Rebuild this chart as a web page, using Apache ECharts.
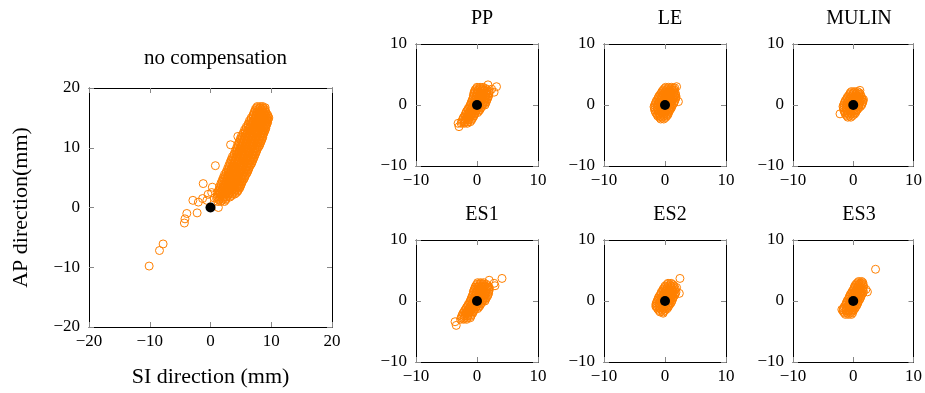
<!DOCTYPE html>
<html>
<head>
<meta charset="utf-8">
<script src="https://cdn.jsdelivr.net/npm/echarts@6/dist/echarts.min.js"></script>
<style>
  html, body { margin: 0; padding: 0; background: #fff; }
  #chart { width: 925px; height: 393px; }
</style>
</head>
<body>
<div id="chart"></div>
<script>
// dense cores are typed row by row: [y, [x values]]
const noCompRows = [
  [1.0, [1.2, 1.7, 2.3]],
  [1.25, [1.4, 2.0, 2.5]],
  [1.5, [1.0, 1.5, 2.0, 2.6]],
  [1.75, [1.1, 1.6, 2.1, 2.6, 3.2]],
  [2.0, [1.2, 1.8, 2.3, 2.9, 3.5]],
  [2.25, [1.3, 1.9, 2.4, 3.0, 3.6, 4.0]],
  [2.5, [1.1, 1.6, 2.1, 2.7, 3.2, 3.8, 4.3]],
  [2.75, [1.3, 1.8, 2.4, 2.9, 3.5, 4.0, 4.5]],
  [3.0, [1.4, 1.9, 2.5, 3.0, 3.6, 4.1, 4.6]],
  [3.25, [1.6, 2.2, 2.7, 3.3, 3.9, 4.4, 4.8]],
  [3.5, [1.5, 2.1, 2.7, 3.2, 3.8, 4.4, 4.9]],
  [3.75, [1.8, 2.4, 3.0, 3.5, 4.1, 4.7, 5.0]],
  [4.0, [1.7, 2.3, 2.8, 3.4, 4.0, 4.5, 5.1]],
  [4.25, [2.0, 2.6, 3.1, 3.7, 4.3, 4.8, 5.2]],
  [4.5, [1.9, 2.5, 3.0, 3.6, 4.2, 4.8, 5.3]],
  [4.75, [2.2, 2.8, 3.3, 3.9, 4.5, 5.1, 5.5]],
  [5.0, [2.1, 2.7, 3.3, 3.8, 4.4, 5.0, 5.6]],
  [5.25, [2.4, 3.0, 3.6, 4.1, 4.7, 5.3, 5.7]],
  [5.5, [2.3, 2.9, 3.5, 4.1, 4.6, 5.2, 5.8]],
  [5.75, [2.6, 3.2, 3.8, 4.4, 4.9, 5.5, 6.0]],
  [6.0, [2.6, 3.1, 3.7, 4.3, 4.9, 5.4, 6.1]],
  [6.25, [2.9, 3.4, 4.0, 4.6, 5.2, 5.8, 6.2]],
  [6.5, [2.8, 3.4, 3.9, 4.5, 5.1, 5.7, 6.3]],
  [6.75, [3.1, 3.7, 4.2, 4.8, 5.4, 6.0, 6.4]],
  [7.0, [3.0, 3.6, 4.1, 4.7, 5.3, 5.9, 6.5]],
  [7.25, [3.3, 3.9, 4.4, 5.0, 5.6, 6.2, 6.7]],
  [7.5, [3.2, 3.8, 4.4, 5.0, 5.5, 6.1, 6.8]],
  [7.75, [3.5, 4.1, 4.7, 5.3, 5.9, 6.5, 6.9]],
  [8.0, [3.4, 4.0, 4.6, 5.2, 5.8, 6.4, 7.0]],
  [8.25, [3.7, 4.3, 4.9, 5.5, 6.1, 6.7, 7.1]],
  [8.5, [3.6, 4.2, 4.8, 5.4, 6.0, 6.6, 7.2]],
  [8.75, [3.9, 4.5, 5.1, 5.7, 6.3, 6.9, 7.3]],
  [9.0, [3.9, 4.4, 5.0, 5.6, 6.2, 6.8, 7.4]],
  [9.25, [4.2, 4.7, 5.3, 5.9, 6.5, 7.1, 7.5]],
  [9.5, [4.1, 4.7, 5.2, 5.8, 6.4, 7.0, 7.6]],
  [9.75, [4.4, 5.0, 5.5, 6.1, 6.7, 7.3, 7.7]],
  [10.0, [4.3, 4.9, 5.5, 6.1, 6.7, 7.3, 7.8]],
  [10.25, [4.6, 5.2, 5.8, 6.4, 7.0, 7.6, 8.0]],
  [10.5, [4.5, 5.1, 5.7, 6.3, 6.9, 7.5, 8.1]],
  [10.75, [4.8, 5.4, 6.0, 6.6, 7.2, 7.8, 8.2]],
  [11.0, [4.7, 5.3, 5.9, 6.5, 7.1, 7.7, 8.3]],
  [11.25, [5.0, 5.6, 6.2, 6.8, 7.4, 8.0, 8.4]],
  [11.5, [4.9, 5.5, 6.1, 6.7, 7.3, 7.9, 8.5]],
  [11.75, [5.2, 5.8, 6.4, 7.0, 7.6, 8.2, 8.6]],
  [12.0, [5.1, 5.7, 6.3, 6.9, 7.5, 8.1, 8.6]],
  [12.25, [5.4, 6.0, 6.6, 7.2, 7.8, 8.4, 8.7]],
  [12.5, [5.4, 6.0, 6.5, 7.1, 7.7, 8.3, 8.8]],
  [12.75, [5.7, 6.3, 6.8, 7.4, 8.0, 8.6, 8.9]],
  [13.0, [5.6, 6.2, 6.8, 7.4, 8.0, 8.5, 9.0]],
  [13.25, [5.9, 6.5, 7.1, 7.7, 8.3, 8.8, 9.1]],
  [13.5, [5.9, 6.5, 7.1, 7.6, 8.2, 8.7, 9.1]],
  [13.75, [6.2, 6.8, 7.4, 7.9, 8.5, 9.0, 9.2]],
  [14.0, [6.2, 6.7, 7.3, 7.9, 8.4, 8.9, 9.3]],
  [14.25, [6.5, 7.0, 7.6, 8.2, 8.7, 9.1, 9.4]],
  [14.5, [6.4, 7.0, 7.6, 8.1, 8.6, 9.1, 9.4]],
  [14.75, [6.7, 7.3, 7.9, 8.4, 8.9, 9.3, 9.5]],
  [15.0, [6.7, 7.3, 7.8, 8.3, 8.8, 9.3, 9.6]],
  [15.25, [7.0, 7.5, 8.1, 8.6, 9.1, 9.5]],
  [15.5, [7.0, 7.5, 8.0, 8.5, 9.0, 9.4]],
  [15.75, [7.2, 7.8, 8.3, 8.8, 9.2]],
  [16.0, [7.2, 7.7, 8.2, 8.7, 9.1]],
  [16.25, [7.4, 8.0, 8.5, 9.0]],
  [16.5, [7.4, 7.9, 8.4, 8.9]],
  [16.7, [7.6, 8.1, 8.6, 9.0]],
  [16.9, [7.7, 8.2, 8.6]],
]
const noCompOutliers = [
  [-10.1, -9.8], [-8.4, -7.2], [-7.8, -6.1], [-4.3, -2.6], [-4.2, -1.9], [-3.9, -1.0],
  [-2.9, 1.2], [-2.2, -0.9], [-2.0, 0.9], [-1.3, 1.5], [-1.2, 4.0], [-0.6, 1.2],
  [-0.4, 2.2], [0.2, 2.5], [0.3, 3.4], [0.6, 1.6], [1.3, 0.0], [0.8, 7.0],
  [3.3, 10.5], [4.5, 11.9], [7.0, 8.8],
]

const ppRows = [
  [-3.0, [-2.6, -2.1, -1.6]],
  [-2.75, [-2.5, -2.0, -1.5, -1.1]],
  [-2.5, [-2.4, -1.9, -1.4, -0.9]],
  [-2.25, [-2.3, -1.8, -1.3, -0.8]],
  [-2.0, [-2.2, -1.7, -1.2, -0.6]],
  [-1.75, [-2.0, -1.5, -1.0, -0.5]],
  [-1.5, [-1.9, -1.4, -0.9, -0.4]],
  [-1.25, [-1.8, -1.3, -0.8, -0.3, 0.1]],
  [-1.0, [-1.7, -1.2, -0.7, -0.2, 0.3]],
  [-0.75, [-1.5, -1.0, -0.5, 0.0, 0.5]],
  [-0.5, [-1.4, -0.9, -0.4, 0.1, 0.6]],
  [-0.25, [-1.2, -0.7, -0.2, 0.3, 0.8]],
  [0.0, [-1.1, -0.6, -0.1, 0.4, 0.9, 1.3]],
  [0.25, [-1.0, -0.5, 0.0, 0.5, 1.0, 1.4]],
  [0.5, [-0.9, -0.4, 0.1, 0.6, 1.1, 1.5]],
  [0.75, [-0.8, -0.3, 0.2, 0.7, 1.2, 1.6]],
  [1.0, [-0.7, -0.2, 0.3, 0.8, 1.3, 1.7]],
  [1.25, [-0.6, -0.1, 0.4, 0.9, 1.4, 1.8]],
  [1.5, [-0.6, -0.1, 0.4, 0.9, 1.4, 1.9]],
  [1.75, [-0.5, 0.0, 0.5, 1.0, 1.5, 1.9]],
  [2.0, [-0.5, 0.0, 0.5, 1.0, 1.5, 2.0]],
  [2.25, [-0.4, 0.1, 0.6, 1.1, 1.6, 2.0]],
  [2.5, [-0.3, 0.2, 0.7, 1.2, 1.7]],
  [2.7, [-0.1, 0.4, 0.9, 1.4]],
  [2.9, [0.0, 0.5, 1.0]],
]
const ppOutliers = [[-3.1, -3.0], [-2.95, -3.55], [1.8, 3.3], [3.2, 3.0], [2.8, 2.1], [2.4, 2.6]]

const leRows = [
  [-2.3, [-0.7, -0.2]],
  [-2.05, [-0.9, -0.4, 0.1]],
  [-1.8, [-1.2, -0.7, -0.2, 0.3]],
  [-1.55, [-1.3, -0.8, -0.3, 0.2, 0.5]],
  [-1.3, [-1.5, -1.0, -0.5, 0.0, 0.5]],
  [-1.05, [-1.6, -1.1, -0.6, -0.1, 0.4, 0.7]],
  [-0.8, [-1.7, -1.2, -0.7, -0.2, 0.3, 0.8]],
  [-0.55, [-1.7, -1.2, -0.7, -0.2, 0.3, 0.8, 1.0]],
  [-0.3, [-1.8, -1.3, -0.8, -0.3, 0.2, 0.7, 1.1]],
  [-0.05, [-1.7, -1.2, -0.7, -0.2, 0.3, 0.8, 1.2]],
  [0.2, [-1.6, -1.1, -0.6, -0.1, 0.4, 0.9, 1.4]],
  [0.45, [-1.5, -1.0, -0.5, 0.0, 0.5, 1.0, 1.5]],
  [0.7, [-1.4, -0.9, -0.4, 0.1, 0.6, 1.1, 1.6]],
  [0.95, [-1.2, -0.7, -0.2, 0.3, 0.8, 1.3, 1.7]],
  [1.2, [-1.1, -0.6, -0.1, 0.4, 0.9, 1.4, 1.8]],
  [1.45, [-1.0, -0.5, 0.0, 0.5, 1.0, 1.5, 1.8]],
  [1.7, [-0.8, -0.3, 0.2, 0.7, 1.2, 1.7]],
  [1.95, [-0.6, -0.1, 0.4, 0.9, 1.4, 1.7]],
  [2.2, [-0.5, 0.0, 0.5, 1.0, 1.5]],
  [2.45, [-0.3, 0.2, 0.7, 1.2, 1.5]],
  [2.7, [-0.1, 0.4, 0.9, 1.4]],
  [2.9, [0.1, 0.6, 1.1]],
]
const leOutliers = [[1.9, 3.0], [2.2, 0.55], [-0.8, -1.9], [1.6, 2.8]]

const mulinRows = [
  [-2.0, [-0.9, -0.4]],
  [-1.75, [-1.1, -0.6, -0.1]],
  [-1.5, [-1.3, -0.8, -0.3, 0.2]],
  [-1.25, [-1.4, -0.9, -0.4, 0.1, 0.4]],
  [-1.0, [-1.5, -1.0, -0.5, 0.0, 0.5]],
  [-0.75, [-1.6, -1.1, -0.6, -0.1, 0.4, 0.7]],
  [-0.5, [-1.6, -1.1, -0.6, -0.1, 0.4, 0.9]],
  [-0.25, [-1.7, -1.2, -0.7, -0.2, 0.3, 0.8, 1.2]],
  [0.0, [-1.6, -1.1, -0.6, -0.1, 0.4, 0.9, 1.4]],
  [0.25, [-1.5, -1.0, -0.5, 0.0, 0.5, 1.0, 1.5]],
  [0.5, [-1.4, -0.9, -0.4, 0.1, 0.6, 1.1, 1.6]],
  [0.75, [-1.3, -0.8, -0.3, 0.2, 0.7, 1.2, 1.6]],
  [1.0, [-1.1, -0.6, -0.1, 0.4, 0.9, 1.4]],
  [1.25, [-1.0, -0.5, 0.0, 0.5, 1.0, 1.4]],
  [1.5, [-0.8, -0.3, 0.2, 0.7, 1.2]],
  [1.75, [-0.6, -0.1, 0.4, 0.9, 1.2]],
  [2.0, [-0.5, 0.0, 0.5, 1.0]],
  [2.2, [-0.3, 0.2, 0.7]],
]
const mulinOutliers = [[-2.2, -1.45], [1.1, 2.4], [1.7, 0.9]]

const es1Rows = [
  [-3.0, [-2.7, -2.2, -1.7]],
  [-2.75, [-2.6, -2.1, -1.6, -1.1]],
  [-2.5, [-2.5, -2.0, -1.5, -1.0]],
  [-2.25, [-2.4, -1.9, -1.4, -0.9]],
  [-2.0, [-2.3, -1.8, -1.3, -0.7]],
  [-1.75, [-2.1, -1.6, -1.1, -0.6]],
  [-1.5, [-2.0, -1.5, -1.0, -0.5]],
  [-1.25, [-1.8, -1.3, -0.8, -0.3, 0.1]],
  [-1.0, [-1.7, -1.2, -0.7, -0.2, 0.3]],
  [-0.75, [-1.5, -1.0, -0.5, 0.0, 0.5]],
  [-0.5, [-1.4, -0.9, -0.4, 0.1, 0.6]],
  [-0.25, [-1.2, -0.7, -0.2, 0.3, 0.8]],
  [0.0, [-1.1, -0.6, -0.1, 0.4, 0.9, 1.3]],
  [0.25, [-1.0, -0.5, 0.0, 0.5, 1.0, 1.4]],
  [0.5, [-0.9, -0.4, 0.1, 0.6, 1.1, 1.5]],
  [0.75, [-0.8, -0.3, 0.2, 0.7, 1.2, 1.7]],
  [1.0, [-0.7, -0.2, 0.3, 0.8, 1.3, 1.8]],
  [1.25, [-0.6, -0.1, 0.4, 0.9, 1.4, 1.9]],
  [1.5, [-0.6, -0.1, 0.4, 0.9, 1.4, 1.9]],
  [1.75, [-0.5, 0.0, 0.5, 1.0, 1.5, 2.0]],
  [2.0, [-0.4, 0.1, 0.6, 1.1, 1.6, 2.0]],
  [2.25, [-0.3, 0.2, 0.7, 1.2, 1.7, 2.0]],
  [2.5, [-0.2, 0.3, 0.8, 1.3, 1.8]],
  [2.75, [0.0, 0.5, 1.0, 1.5]],
  [3.0, [0.1, 0.6, 1.1]],
]
const es1Outliers = [[-3.4, -4.0], [-3.6, -3.4], [2.0, 3.4], [2.95, 2.5], [4.1, 3.7], [2.8, 2.9]]

const es2Rows = [
  [-1.8, [-0.8, -0.3]],
  [-1.55, [-1.0, -0.5, 0.0]],
  [-1.3, [-1.2, -0.7, -0.2, 0.3]],
  [-1.05, [-1.3, -0.8, -0.3, 0.2, 0.5]],
  [-0.8, [-1.4, -0.9, -0.4, 0.1, 0.6]],
  [-0.55, [-1.5, -1.0, -0.5, 0.0, 0.5, 0.8]],
  [-0.3, [-1.4, -0.9, -0.4, 0.1, 0.6, 1.0]],
  [-0.05, [-1.3, -0.8, -0.3, 0.2, 0.7, 1.1]],
  [0.2, [-1.2, -0.7, -0.2, 0.3, 0.8, 1.2]],
  [0.45, [-1.1, -0.6, -0.1, 0.4, 0.9, 1.3]],
  [0.7, [-1.0, -0.5, 0.0, 0.5, 1.0, 1.4]],
  [0.95, [-0.8, -0.3, 0.2, 0.7, 1.2, 1.6]],
  [1.2, [-0.7, -0.2, 0.3, 0.8, 1.3, 1.7]],
  [1.45, [-0.6, -0.1, 0.4, 0.9, 1.4, 1.8]],
  [1.7, [-0.4, 0.1, 0.6, 1.1, 1.6]],
  [1.95, [-0.3, 0.2, 0.7, 1.2, 1.7]],
  [2.2, [-0.1, 0.4, 0.9, 1.4, 1.9]],
  [2.45, [0.0, 0.5, 1.0, 1.5]],
  [2.7, [0.3, 0.8, 1.3]],
  [2.9, [0.5, 1.0]],
]
const es2Outliers = [[2.45, 3.7], [2.35, 1.25], [-1.5, -0.9], [-0.3, -2.0]]

const es3Rows = [
  [-2.2, [-1.3, -0.8, -0.3]],
  [-1.95, [-1.5, -1.0, -0.5, -0.1]],
  [-1.7, [-1.7, -1.2, -0.7, -0.2]],
  [-1.45, [-1.7, -1.2, -0.7, -0.2, 0.1]],
  [-1.2, [-1.6, -1.1, -0.6, -0.1, 0.3]],
  [-0.95, [-1.5, -1.0, -0.5, 0.0, 0.4]],
  [-0.7, [-1.3, -0.8, -0.3, 0.2, 0.6]],
  [-0.45, [-1.2, -0.7, -0.2, 0.3, 0.7]],
  [-0.2, [-1.1, -0.6, -0.1, 0.4, 0.8]],
  [0.05, [-1.0, -0.5, 0.0, 0.5, 0.9]],
  [0.3, [-0.8, -0.3, 0.2, 0.7, 1.1]],
  [0.55, [-0.7, -0.2, 0.3, 0.8, 1.2]],
  [0.8, [-0.6, -0.1, 0.4, 0.9, 1.3]],
  [1.05, [-0.5, 0.0, 0.5, 1.0, 1.4]],
  [1.3, [-0.3, 0.2, 0.7, 1.2, 1.6]],
  [1.55, [-0.2, 0.3, 0.8, 1.3, 1.7]],
  [1.8, [0.0, 0.5, 1.0, 1.5]],
  [2.05, [0.1, 0.6, 1.1, 1.6]],
  [2.3, [0.2, 0.7, 1.2, 1.7]],
  [2.55, [0.3, 0.8, 1.3, 1.7]],
  [2.8, [0.5, 1.0, 1.5]],
  [3.0, [0.7, 1.2, 1.6]],
  [3.2, [0.9, 1.4]],
]
const es3Outliers = [[3.7, 5.2], [2.35, 1.5], [2.1, 1.9], [-1.9, -1.4]]

const origin = [[0, 0]]

const FONT = "'Liberation Serif', 'DejaVu Serif', serif"
const ORANGE = '#ff8000'

function rowsToPoints(rows) {
  return rows.flatMap(([y, xs]) => xs.map((x) => [x, y]))
}

// panel layout (pixels)
const panels = [
  { title: 'no compensation', rows: noCompRows, extra: noCompOutliers, left: 89, top: 88, size: 243, lim: 20, titleTop: 43, main: true },
  { title: 'PP', rows: ppRows, extra: ppOutliers, left: 416, top: 44, size: 122, lim: 10, titleTop: 4 },
  { title: 'LE', rows: leRows, extra: leOutliers, left: 604, top: 44, size: 122, lim: 10, titleTop: 4 },
  { title: 'MULIN', rows: mulinRows, extra: mulinOutliers, left: 793, top: 44, size: 122, lim: 10, titleTop: 4 },
  { title: 'ES1', rows: es1Rows, extra: es1Outliers, left: 416, top: 240, size: 122, lim: 10, titleTop: 200 },
  { title: 'ES2', rows: es2Rows, extra: es2Outliers, left: 604, top: 240, size: 122, lim: 10, titleTop: 200 },
  { title: 'ES3', rows: es3Rows, extra: es3Outliers, left: 793, top: 240, size: 122, lim: 10, titleTop: 200 },
]

const fmt = (v) => (v < 0 ? '\u2212' + Math.abs(v) : String(v))

function makeAxis(p, pos, showLabel) {
  return {
    type: 'value',
    position: pos,
    min: -p.lim,
    max: p.lim,
    interval: 10,
    axisLine: { show: true, onZero: false, lineStyle: { color: '#000', width: 1 } },
    axisTick: { show: true, inside: true, length: 5, lineStyle: { color: '#888', width: 1 } },
    axisLabel: {
      show: showLabel,
      formatter: fmt,
      color: '#000',
      fontFamily: FONT,
      fontSize: 17,
      margin: pos === 'bottom' ? 6 : 9,
    },
    splitLine: { show: false },
  }
}

const grid = []
const xAxis = []
const yAxis = []
const series = []
const title = []

panels.forEach((p, i) => {
  grid.push({ left: p.left, top: p.top, width: p.size, height: p.size })
  const bx = makeAxis(p, 'bottom', true)
  const tx = makeAxis(p, 'top', false)
  const ly = makeAxis(p, 'left', true)
  const ry = makeAxis(p, 'right', false)
  ;[bx, tx, ly, ry].forEach((a) => (a.gridIndex = i))
  if (p.main) {
    Object.assign(bx, {
      name: 'SI direction (mm)', nameLocation: 'middle', nameGap: 39,
      nameTextStyle: { fontFamily: FONT, fontSize: 22, color: '#000' },
    })
    Object.assign(ly, {
      name: 'AP direction(mm)', nameLocation: 'middle', nameGap: 57,
      nameTextStyle: { fontFamily: FONT, fontSize: 22, color: '#000' },
    })
  }
  const xi = xAxis.length
  xAxis.push(bx, tx)
  const yi = yAxis.length
  yAxis.push(ly, ry)

  title.push({
    text: p.title,
    left: p.left + p.size / 2,
    top: p.titleTop,
    textAlign: 'center',
    textStyle: { fontFamily: FONT, fontSize: p.main ? 21 : 20, fontWeight: 'normal', color: '#000' },
  })

  series.push({
    type: 'scatter',
    xAxisIndex: xi,
    yAxisIndex: yi,
    symbol: 'circle',
    symbolSize: 8,
    itemStyle: { color: 'rgba(255,255,255,0)', borderColor: ORANGE, borderWidth: 1, opacity: 1 },
    emphasis: { disabled: true },
    data: rowsToPoints(p.rows).concat(p.extra),
    z: 2,
  })
  series.push({
    type: 'scatter',
    xAxisIndex: xi,
    yAxisIndex: yi,
    symbol: 'circle',
    symbolSize: 10,
    itemStyle: { color: '#000', opacity: 1 },
    emphasis: { disabled: true },
    data: origin,
    z: 3,
  })
})

var myChart = echarts.init(document.getElementById('chart'))
var option = {
  backgroundColor: '#fff',
  animation: false,
  title,
  grid,
  xAxis,
  yAxis,
  series,
}
option && myChart.setOption(option)
</script>
</body>
</html>
